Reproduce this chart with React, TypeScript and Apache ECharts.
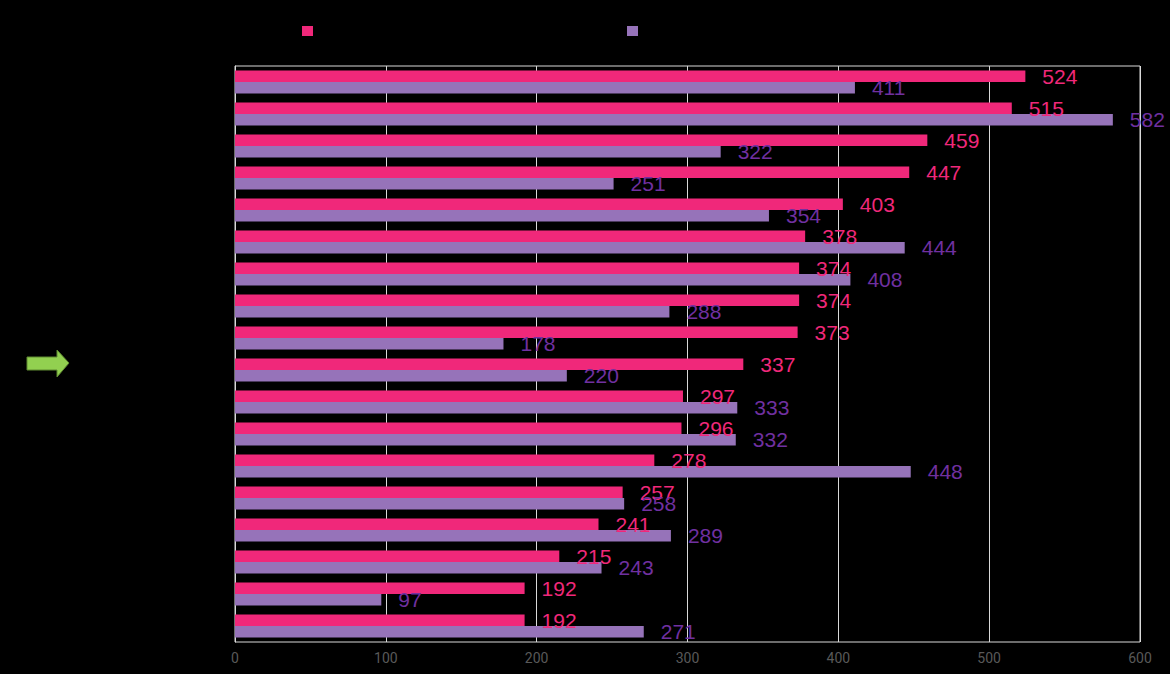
import React, { useEffect, useRef } from "react";
import * as echarts from "echarts";

const categories = ["1", "2", "3", "4", "5", "6", "7", "8", "9", "10", "11", "12", "13", "14", "15", "16", "17", "18"];
const seriesAName = "Series 1";
const seriesBName = "Series 2";
const seriesA = [524, 515, 459, 447, 403, 378, 374, 374, 373, 337, 297, 296, 278, 257, 241, 215, 192, 192];
const seriesB = [411, 582, 322, 251, 354, 444, 408, 288, 178, 220, 333, 332, 448, 258, 289, 243, 97, 271];
const xTicks = [0, 100, 200, 300, 400, 500, 600];

const PINK = "#f0287a";
const PURPLE = "#9673b9";
const PURPLE_LABEL = "#7030a0";

export default function App() {
  const ref = useRef<HTMLDivElement>(null);
  useEffect(() => {
    if (!ref.current) return;
    const chart = echarts.init(ref.current, undefined, { renderer: "svg" });
    const labelFont = { fontFamily: "Liberation Sans, Arial, sans-serif", fontSize: 21 };
    chart.setOption({
      animation: false,
      backgroundColor: "#000000",
      legend: [
        {
          data: [seriesAName],
          left: 297,
          top: 20,
          icon: "rect",
          itemWidth: 11,
          itemHeight: 10,
          textStyle: { color: "#000000", fontSize: 12 },
        },
        {
          data: [seriesBName],
          left: 622,
          top: 20,
          icon: "rect",
          itemWidth: 11,
          itemHeight: 10,
          textStyle: { color: "#000000", fontSize: 12 },
        },
      ],
      grid: {
        left: 235,
        right: 30,
        top: 66,
        bottom: 32,
        show: true,
        borderColor: "#d9d9d9",
        borderWidth: 1,
        backgroundColor: "transparent",
      },
      xAxis: {
        type: "value",
        min: xTicks[0],
        max: xTicks[xTicks.length - 1],
        interval: 100,
        axisLine: { show: false },
        axisTick: { show: false },
        splitLine: { show: true, lineStyle: { color: "#d9d9d9", width: 1 } },
        axisLabel: { color: "#595959", fontSize: 14, margin: 9, fontFamily: "Roboto, sans-serif" },
      },
      yAxis: {
        type: "category",
        data: categories,
        inverse: true,
        axisLine: { show: true, lineStyle: { color: "#d9d9d9" } },
        axisTick: { show: false },
        axisLabel: { show: false },
        splitLine: { show: false },
      },
      series: [
        {
          name: seriesAName,
          type: "bar",
          data: seriesA,
          barGap: "0%",
          barCategoryGap: "28%",
          itemStyle: { color: PINK },
          label: { show: true, position: "right", distance: 17, color: PINK, ...labelFont },
          z: 2,
        },
        {
          name: seriesBName,
          type: "bar",
          data: seriesB,
          barGap: "0%",
          barCategoryGap: "28%",
          itemStyle: { color: PURPLE },
          label: { show: true, position: "right", distance: 17, color: PURPLE_LABEL, ...labelFont },
          z: 2,
        },
      ],
      graphic: [
        {
          type: "polygon",
          shape: {
            points: [
              [27, 357],
              [57, 357],
              [57, 350],
              [69, 363],
              [57, 377],
              [57, 370],
              [27, 370],
            ],
          },
          style: { fill: "#92d050", stroke: "#5e8a30", lineWidth: 1 },
          z: 10,
        },
      ],
    });
    return () => chart.dispose();
  }, []);
  return <div ref={ref} style={{ position: "fixed", left: 0, top: 0, width: 1170, height: 674 }} />;
}
